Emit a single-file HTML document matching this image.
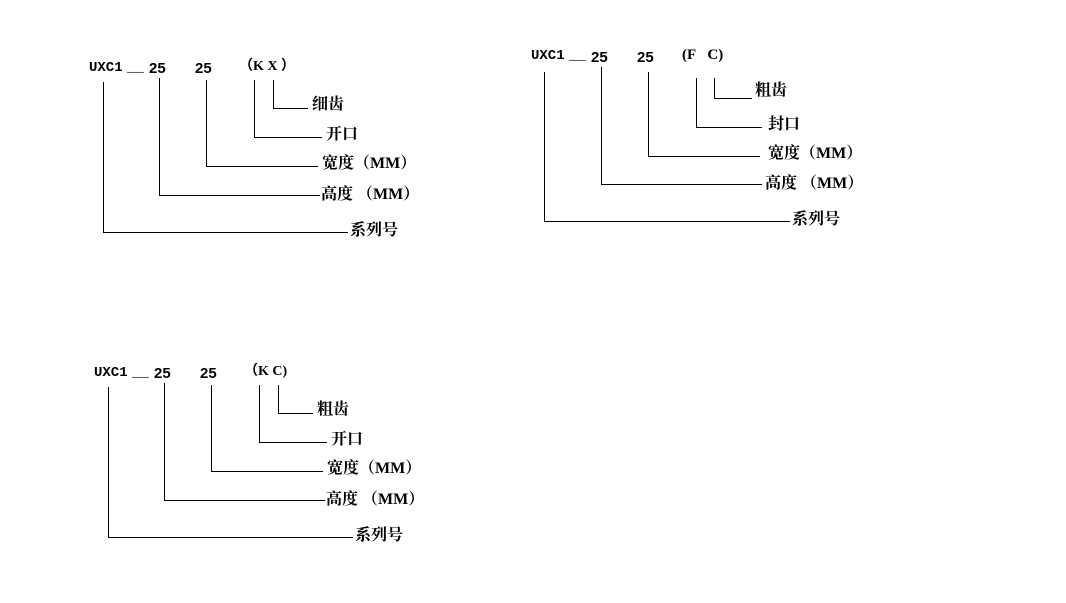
<!DOCTYPE html>
<html><head><meta charset="utf-8"><style>
html,body{margin:0;padding:0;background:#fff;width:1066px;height:603px;overflow:hidden}
svg text{font-family:"Liberation Mono","Noto Sans CJK SC",monospace;font-weight:bold;font-size:14px;fill:#000}
svg text.c{font-family:"Liberation Serif","Noto Serif CJK SC","Noto Sans CJK SC",serif;font-size:16px}
</style></head><body>
<svg width="1066" height="603" xmlns="http://www.w3.org/2000/svg">
<defs>
<g id="d">
<text x="89" y="71" font-size="13">UXC1</text>
<text x="127" y="71">__</text>
<text x="149" y="73" style="font-family:'Liberation Sans',sans-serif;font-size:15px">25</text>
<text x="195" y="73" style="font-family:'Liberation Sans',sans-serif;font-size:15px">25</text>
<g stroke="#000" stroke-width="1" fill="none">
<path d="M103.5 82V232.5H348"/>
<path d="M159.5 78V195.5H320"/>
<path d="M206.5 80V166.5H318"/>
<path d="M254.5 80V137.5H322"/>
</g>
<text class="c" x="321" y="199">高度 （MM）</text>
<text class="c" x="322" y="168">宽度（MM）</text>
<text class="c" x="326" y="139">开口</text>
<text class="c" x="350" y="235">系列号</text>
</g>
</defs>
<use href="#d"/>
<text x="239" y="70" style="font-family:'Liberation Serif','Noto Sans CJK SC',serif">（K X ）</text>
<path d="M273.5 80V108.5H308" stroke="#000" fill="none"/>
<text class="c" x="312" y="109">细齿</text>

<g transform="translate(5,305)">
<use href="#d"/>
<text x="239" y="70" style="font-family:'Liberation Serif','Noto Sans CJK SC',serif">（K C)</text>
<path d="M273.5 80V108.5H308" stroke="#000" fill="none"/>
<text class="c" x="312" y="109">粗齿</text>
</g>

<text x="531" y="59" font-size="13">UXC1</text>
<text x="569" y="59">__</text>
<text x="591" y="62" style="font-family:'Liberation Sans',sans-serif;font-size:15px">25</text>
<text x="637" y="62" style="font-family:'Liberation Sans',sans-serif;font-size:15px">25</text>
<text x="682" y="59" style="font-family:'Liberation Serif',serif;font-size:15px">(F&#160;&#160;&#160;C)</text>
<g stroke="#000" stroke-width="1" fill="none">
<path d="M544.5 72V221.5H790"/>
<path d="M601.5 67V184.5H762"/>
<path d="M648.5 72V156.5H760"/>
<path d="M696.5 78V127.5H762"/>
<path d="M714.5 78V98.5H752"/>
</g>
<text class="c" x="755" y="95">粗齿</text>
<text class="c" x="768" y="129">封口</text>
<text class="c" x="768" y="158">宽度（MM）</text>
<text class="c" x="765" y="188">高度 （MM）</text>
<text class="c" x="792" y="224">系列号</text>
</svg>
</body></html>
